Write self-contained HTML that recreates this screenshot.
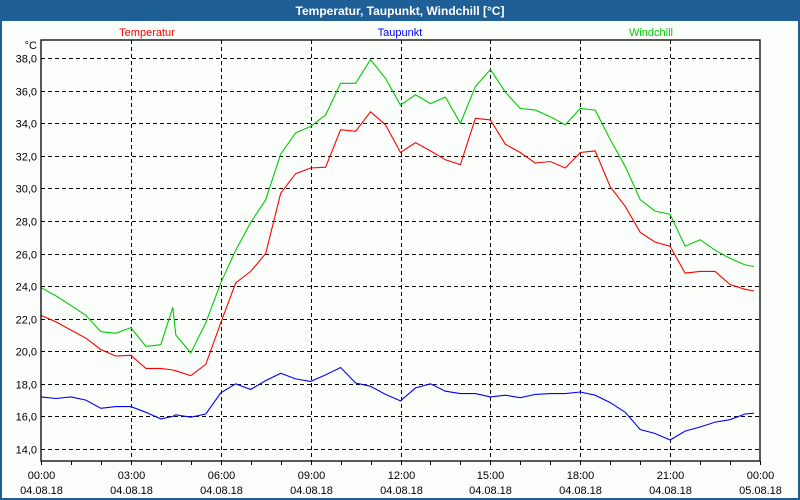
<!DOCTYPE html>
<html><head><meta charset="utf-8"><style>
html,body{margin:0;padding:0;width:800px;height:500px;overflow:hidden;background:#1f5f97;}
svg{display:block;font-family:"Liberation Sans",Tahoma,sans-serif;}
</style></head><body>
<svg id="chart" width="800" height="500" xmlns="http://www.w3.org/2000/svg">
<rect x="0" y="0" width="800" height="500" fill="#1f5f97"/>
<rect x="2" y="21" width="796" height="477" fill="#fcfefc"/>
<text x="400" y="15" text-anchor="middle" font-size="12" font-weight="bold" fill="#ffffff">Temperatur, Taupunkt, Windchill [°C]</text>
<text x="147" y="36" text-anchor="middle" font-size="11" fill="#ff0000">Temperatur</text>
<text x="400" y="36" text-anchor="middle" font-size="11" fill="#0000ff">Taupunkt</text>
<text x="651" y="36" text-anchor="middle" font-size="11" fill="#00cc00">Windchill</text>
<text x="37" y="49" text-anchor="end" font-size="11" fill="#000">°C</text>
<g id="grid"></g>
<g id="series"></g>
<rect x="41" y="40" width="719" height="421" fill="none" stroke="#000" stroke-width="1.3"/>
<g id="axes"></g>
</svg>
<script>
const hours = [0,0.5,1,1.5,2,2.5,3,3.5,4,4.4,4.5,5,5.5,6,6.5,7,7.5,8,8.5,9,9.5,10,10.5,11,11.5,12,12.5,13,13.5,14,14.5,15,15.5,16,16.5,17,17.5,18,18.5,19,19.5,20,20.5,21,21.5,22,22.5,23,23.5,23.8];
const temperatur = [22.2,21.8,21.3,20.8,20.1,19.7,19.75,18.95,18.95,18.85,18.8,18.5,19.2,21.75,24.2,24.9,26.0,29.7,30.9,31.25,31.3,33.6,33.5,34.7,33.9,32.2,32.8,32.3,31.75,31.45,34.3,34.2,32.7,32.2,31.55,31.65,31.25,32.2,32.3,30.1,28.9,27.3,26.7,26.45,24.8,24.9,24.9,24.1,23.8,23.7];
const windchill = [23.9,23.4,22.8,22.2,21.2,21.1,21.45,20.3,20.4,22.7,21.0,19.9,21.75,24.2,26.2,27.9,29.3,32.1,33.4,33.8,34.5,36.45,36.45,37.9,36.75,35.1,35.75,35.2,35.6,34.0,36.25,37.3,35.9,34.9,34.8,34.4,33.9,34.9,34.8,33.0,31.35,29.3,28.6,28.4,26.45,26.85,26.2,25.7,25.3,25.2];
const taupunkt = [17.2,17.1,17.2,17.0,16.5,16.6,16.6,16.25,15.85,16.0,16.1,15.95,16.15,17.45,18.0,17.65,18.2,18.65,18.3,18.15,18.55,19.0,18.05,17.85,17.35,16.95,17.75,18.0,17.55,17.4,17.4,17.2,17.3,17.15,17.35,17.4,17.4,17.5,17.3,16.85,16.25,15.2,14.95,14.55,15.1,15.35,15.65,15.8,16.15,16.2];
const yTicks = ["14,0","16,0","18,0","20,0","22,0","24,0","26,0","28,0","30,0","32,0","34,0","36,0","38,0"];
const xTimes = ["00:00","03:00","06:00","09:00","12:00","15:00","18:00","21:00","00:00"];
const xDates = ["04.08.18","04.08.18","04.08.18","04.08.18","04.08.18","04.08.18","04.08.18","04.08.18","05.08.18"];
const NS="http://www.w3.org/2000/svg";
function xs(h){return 41+h*(719/24);}
function ys(v){return 58+(38-v)*(391/24);}
const grid=document.getElementById('grid'), axes=document.getElementById('axes'), series=document.getElementById('series');
function mk(tag,attrs,parent){const e=document.createElementNS(NS,tag);for(const k in attrs)e.setAttribute(k,attrs[k]);parent.appendChild(e);return e;}
yTicks.forEach((t,i)=>{
  const v=parseFloat(t.replace(',','.'));const y=Math.round(ys(v))+0.5;
  const l=mk('line',{x1:41,x2:760,y1:y,y2:y,stroke:'#000','stroke-dasharray':'4,3'},grid);
  
  
  const tx=mk('text',{x:37,y:y+4,'text-anchor':'end','font-size':11,fill:'#000'},axes);
  tx.textContent=t;
  
  
});
xTimes.forEach((t,i)=>{
  const x=Math.round(xs(i*3))+0.5;
  if(i>0&&i<8){const l=mk('line',{x1:x,x2:x,y1:40,y2:461,stroke:'#000','stroke-dasharray':'4,3'},grid);
  
  }
  const a=mk('text',{x:x,y:479,'text-anchor':'middle','font-size':11,fill:'#000'},axes);
  a.textContent=t;
  
  
  const b=mk('text',{x:x,y:494,'text-anchor':'middle','font-size':11,fill:'#000'},axes);
  b.textContent=xDates[i];
  
  
});
for(let h=0;h<=24;h++){const x=Math.round(xs(h))+0.5;const tk=mk('line',{x1:x,x2:x,y1:461,y2:465,stroke:'#000'},axes);
  
  }
function line(vals,color,name){
  const p=mk('polyline',{points:vals.map((v,i)=>xs(hours[i]).toFixed(1)+','+ys(v).toFixed(1)).join(' '),fill:'none',stroke:color,'stroke-width':1.1},series);
  
  
}
line(taupunkt,'#0000ff','taupunkt-line');
line(temperatur,'#ff0000','temperatur-line');
line(windchill,'#00cc00','windchill-line');
</script>
</body></html>
